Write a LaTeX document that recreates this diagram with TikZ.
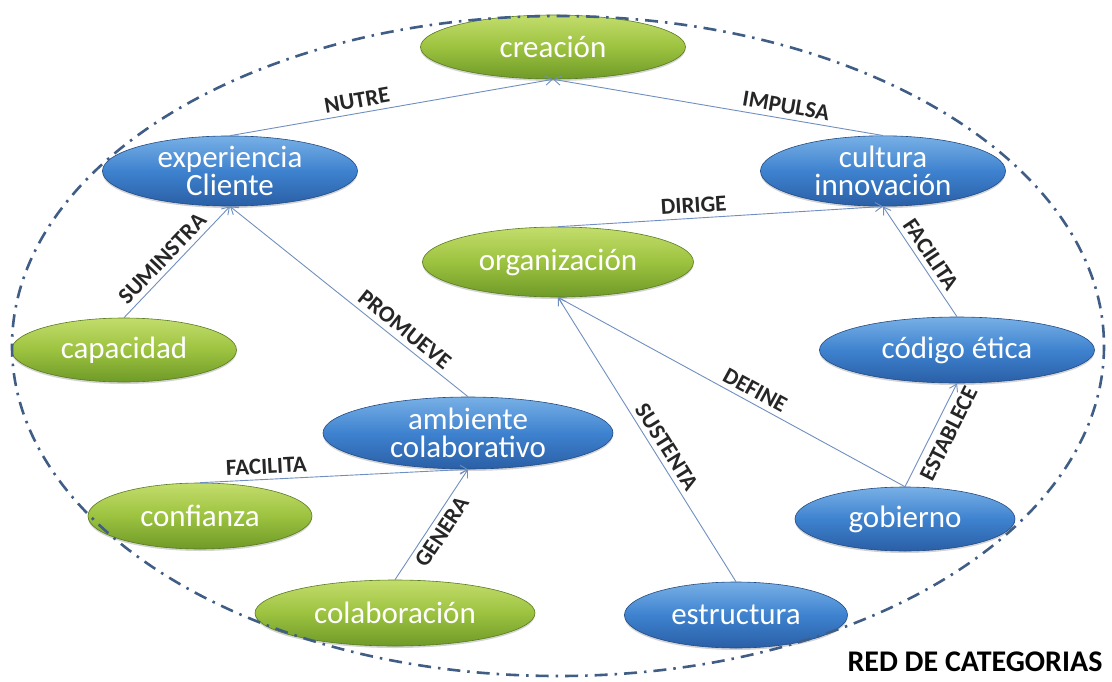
\documentclass[tikz,border=0pt]{standalone}
\usepackage{fontspec}
\setmainfont{Carlito}
\usetikzlibrary{arrows.meta,shapes.geometric,shadows}
\definecolor{gtop}{HTML}{C3DD6C}
\definecolor{gmid}{HTML}{9CC23F}
\definecolor{gbot}{HTML}{6F9A28}
\definecolor{btop}{HTML}{78B0E6}
\definecolor{bmid}{HTML}{3E82CF}
\definecolor{bbot}{HTML}{2A5FA6}
\definecolor{linkcol}{HTML}{6F8FC0}
\definecolor{ringcol}{HTML}{3F5D85}
\tikzset{
  concept/.style={ellipse, inner sep=0pt, text=white, font=\fontsize{31}{28}\selectfont,
    align=center, drop shadow={shadow xshift=0pt, shadow yshift=-2pt, opacity=0.35}},
  greennode/.style={concept, top color=gtop, bottom color=gbot, middle color=gmid, draw=gbot!80!black, line width=0.6pt},
  bluenode/.style={concept, top color=btop, bottom color=bbot, middle color=bmid, draw=bbot!80!black, line width=0.6pt},
  link/.style={draw=linkcol, line width=0.9pt, -{Straight Barb[length=7pt,width=9pt]}},
  verb/.style={font=\bfseries\fontsize{23}{24}\selectfont, text=black!85, sloped, inner sep=5pt}
}
\begin{document}
\begin{tikzpicture}[x=1pt,y=-1pt]
\useasboundingbox (0,0) rectangle (1112,681);

% concepts
\node[greennode, minimum width=265pt, minimum height=64pt] (cre) at (553,47) {creación};
\node[bluenode, minimum width=255pt, minimum height=68pt] (exp) at (230,171) {experiencia\\Cliente};
\node[bluenode, minimum width=245pt, minimum height=68pt] (cul) at (883,171) {cultura\\innovación};
\node[greennode, minimum width=271pt, minimum height=70pt] (org) at (558,262) {organización};
\node[greennode, minimum width=225pt, minimum height=64pt] (cap) at (124,350) {capacidad};
\node[bluenode, minimum width=275pt, minimum height=66pt] (cod) at (957,350) {código ética};
\node[bluenode, minimum width=290pt, minimum height=72pt] (amb) at (468,433) {ambiente\\colaborativo};
\node[greennode, minimum width=224pt, minimum height=66pt] (con) at (200,516) {confianza};
\node[bluenode, minimum width=220pt, minimum height=64pt] (gob) at (905,519) {gobierno};
\node[greennode, minimum width=280pt, minimum height=66pt] (col) at (395,613) {colaboración};
\node[bluenode, minimum width=223pt, minimum height=66pt] (est) at (736,615) {estructura};

% relations
\draw[link] (exp.north) -- node[verb, above, pos=0.4] {NUTRE} (cre.south);
\draw[link] (cul.north) -- node[verb, above, pos=0.3] {IMPULSA} (cre.south);
\draw[link] (org.north) -- node[verb, above, pos=0.42] {DIRIGE} (cul.south);
\draw[link] (cod.north) -- node[verb, above, pos=0.5] {FACILITA} (cul.south);
\draw[link] (cap.north) -- node[verb, above, pos=0.45] {SUMINSTRA} (exp.south);
\draw[link] (amb.north) -- node[verb, above, pos=0.3] {PROMUEVE} (exp.south);
\draw[link] (con.north) -- node[verb, above, pos=0.25] {FACILITA} (amb.south);
\draw[link] (col.north) -- node[verb, below, pos=0.5] {GENERA} (amb.south);
\draw[link] (est.north) -- node[verb, above, pos=0.45] {SUSTENTA} (org.south);
\draw[link] (gob.north) -- node[verb, above, pos=0.45] {DEFINE} (org.south);
\draw[link] (gob.north) -- node[verb, below, pos=0.58, inner sep=7pt] {ESTABLECE} (cod.south);

% outer category ring, drawn over the concepts
\draw[ringcol, line width=2.6pt, dash pattern=on 13pt off 7pt on 2.5pt off 7pt]
  (558,346) ellipse [x radius=546, y radius=330];

\node[font=\bfseries\fontsize{30}{32}\selectfont, anchor=east] (title) at (1106,662) {RED DE CATEGORIAS};
\end{tikzpicture}
\end{document}
